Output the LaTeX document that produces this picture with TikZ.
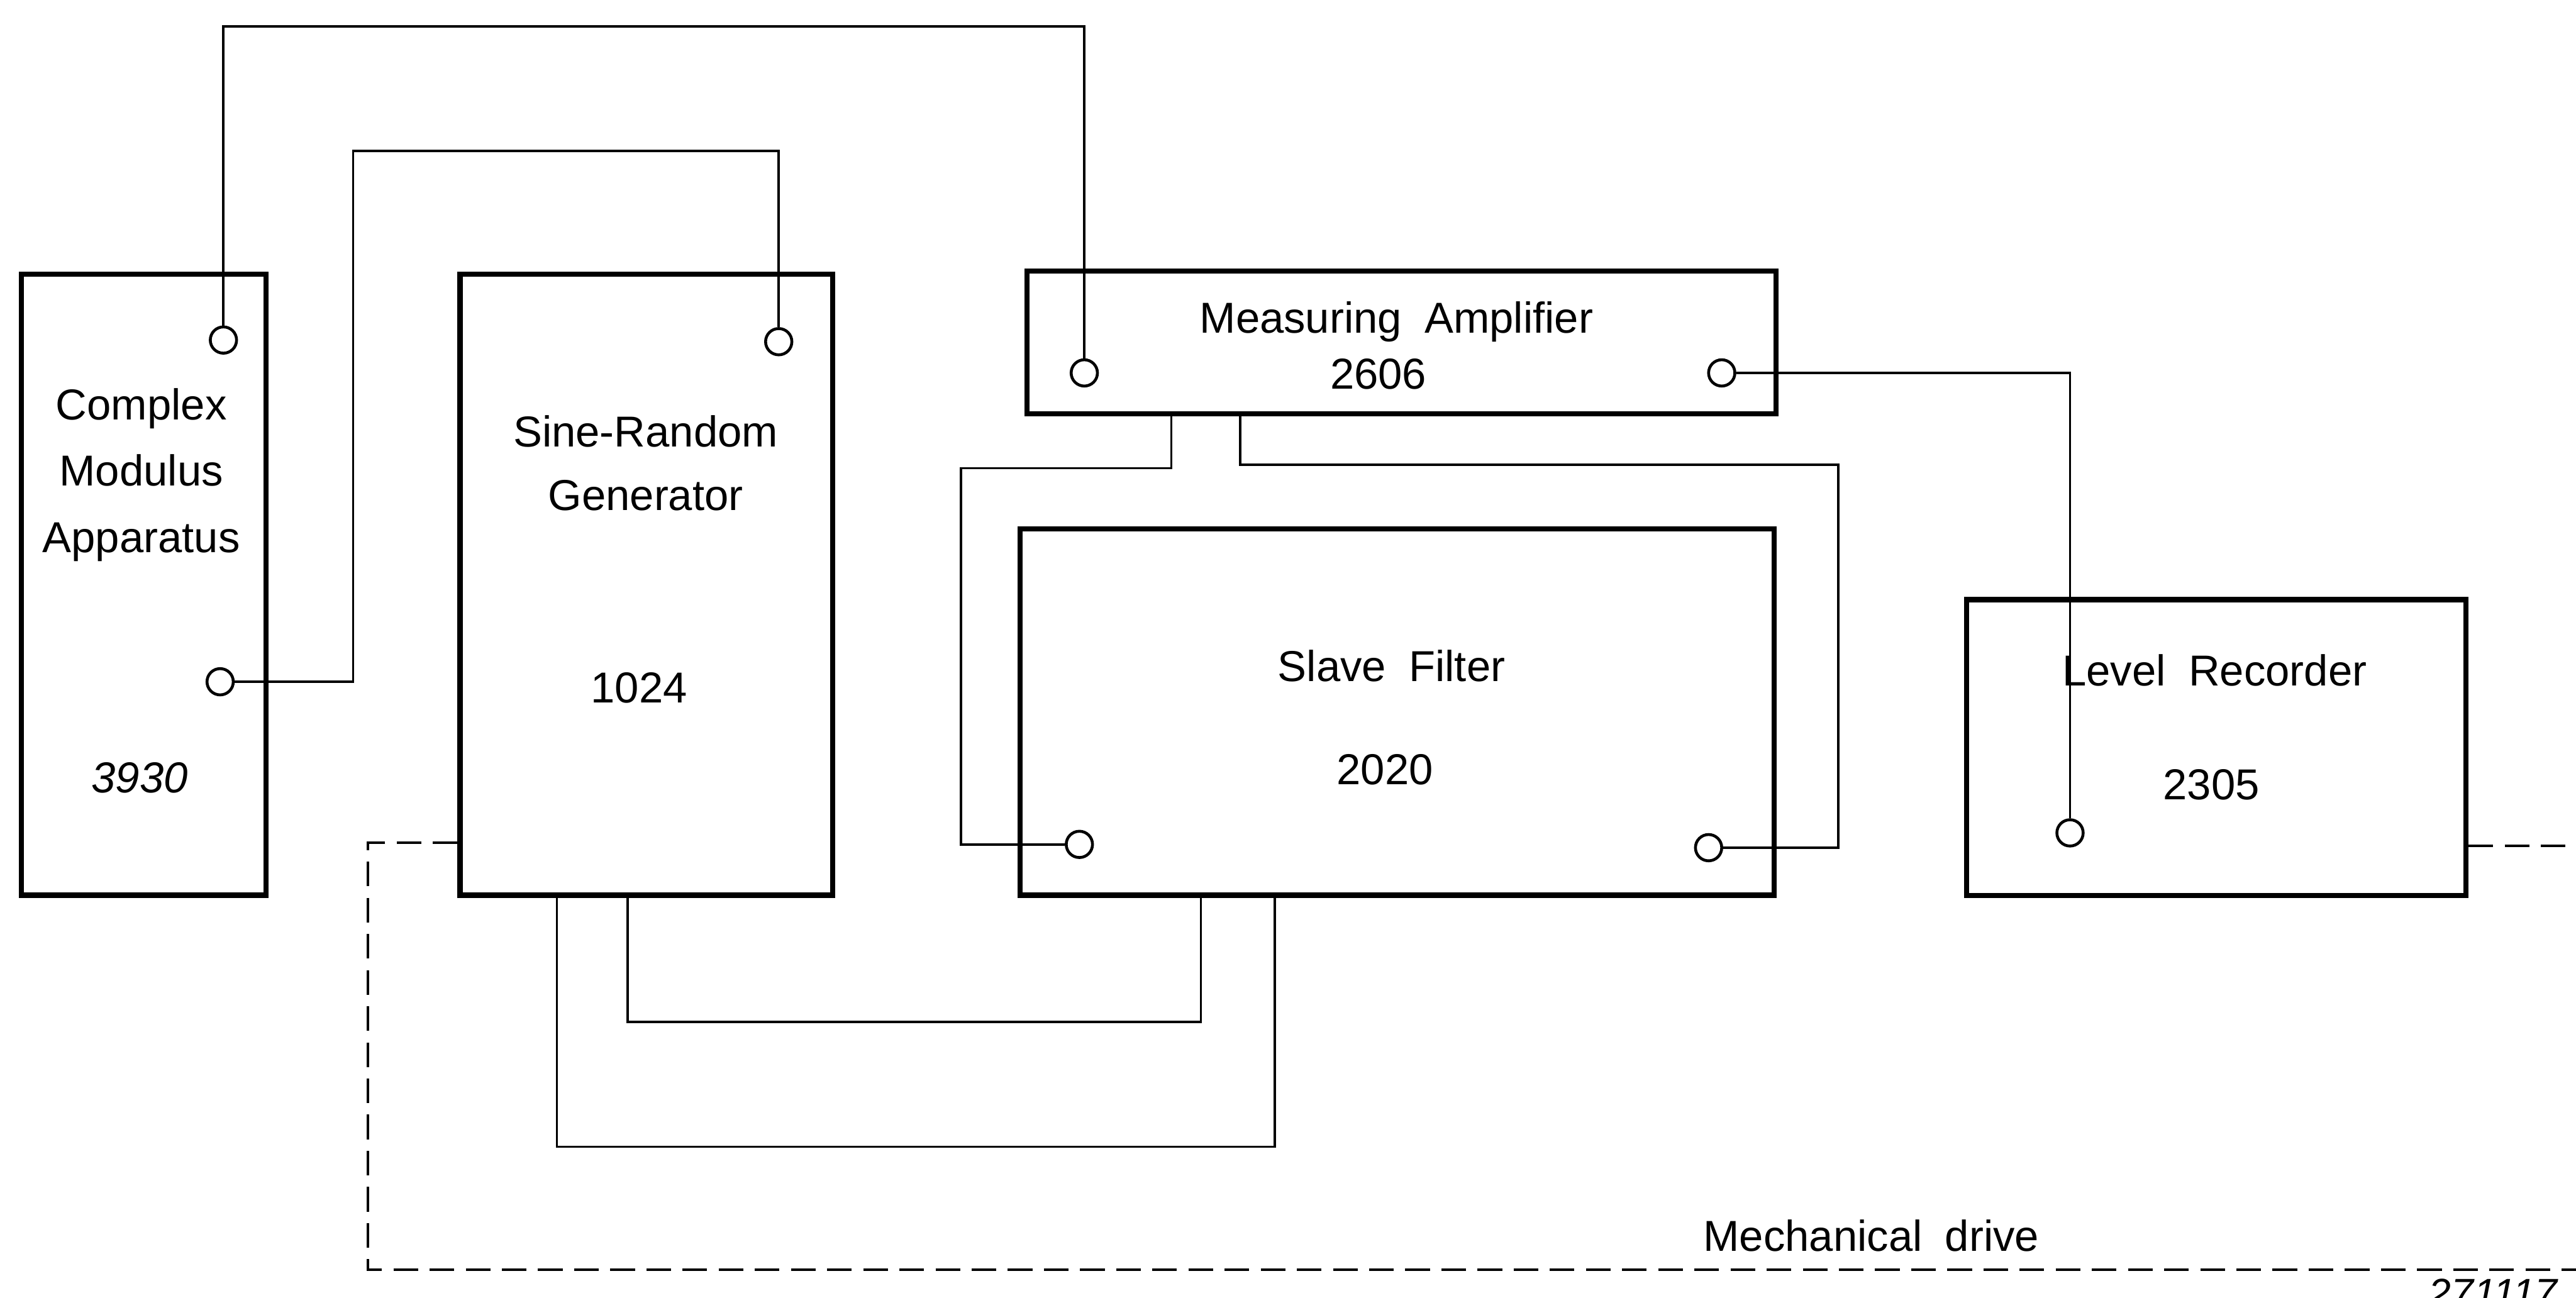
\documentclass[tikz,border=0pt]{standalone}
\usepackage{fontspec}
\setmainfont{Liberation Sans}

\begin{document}
\begin{tikzpicture}[x=0.02cm,y=-0.02cm,
    unit/.style={draw,line width=1.8pt,inner sep=0pt},
    term/.style={draw,circle,line width=1pt,minimum size=0.32cm,inner sep=0pt,fill=white},
    lbl/.style={font=\fontsize{15}{18}\selectfont,anchor=mid,inner sep=0pt,yshift=-0.1cm},
    title/.style={align=center,inner sep=0pt},
    wire/.style={line width=0.8pt},
    drive/.style={line width=0.8pt,dash pattern=on 0.3cm off 0.14cm}]
    \useasboundingbox (0,0) rectangle (1568,790);
    % instruments
    \node[unit,minimum width=2.98cm,minimum height=7.56cm] (cma) at (87.5,356) {};
    \node[unit,minimum width=4.54cm,minimum height=7.56cm] (srg) at (393.5,356) {};
    \node[unit,minimum width=9.12cm,minimum height=1.74cm] (amp) at (853,208.5) {};
    \node[unit,minimum width=9.18cm,minimum height=4.46cm] (filt) at (850.5,433.5) {};
    \node[unit,minimum width=6.08cm,minimum height=3.6cm] (rec) at (1349,455) {};
    % names and type numbers
    \node[title,font=\fontsize{15}{23}\selectfont] (cmaName) at (86,289) {Complex\\Modulus\\Apparatus};
    \node[lbl,font=\itshape\fontsize{15}{18}\selectfont] (cmaNo) at (85,473) {3930};
    \node[title,font=\fontsize{15}{22}\selectfont] (srgName) at (393,282) {Sine-Random\\Generator};
    \node[lbl] (srgNo) at (389,418) {1024};
    \node[lbl] (ampName) at (850,193) {Measuring\hspace{0.25em} Amplifier};
    \node[lbl] (ampNo) at (839,227) {2606};
    \node[lbl] (filtName) at (847,405) {Slave\hspace{0.25em} Filter};
    \node[lbl] (filtNo) at (843,468) {2020};
    \node[lbl] (recName) at (1348,408) {Level\hspace{0.25em} Recorder};
    \node[lbl] (recNo) at (1346,477) {2305};
    % terminals
    \node[term] (cmaA) at (136,207) {};
    \node[term] (cmaB) at (134,415) {};
    \node[term] (srgA) at (474,208) {};
    \node[term] (ampIn) at (660,227) {};
    \node[term] (ampOut) at (1048,227) {};
    \node[term] (filtIn) at (657,514) {};
    \node[term] (filtOut) at (1040,516) {};
    \node[term] (recIn) at (1260,507) {};
    % corners
    \coordinate (t1) at (400,16);
    \coordinate (t2) at (215,92);
    \coordinate (j1) at (713,285);
    \coordinate (j2) at (585,514);
    \coordinate (j3) at (755,283);
    \coordinate (j4) at (1119,516);
    \coordinate (j5) at (382,622);
    \coordinate (j6) at (731,622);
    \coordinate (j7) at (339,698);
    \coordinate (j8) at (776,698);
    \coordinate (m1) at (224,513);
    \coordinate (m2) at (224,773);
    \coordinate (m3) at (1568,773);
    \coordinate (m4) at (1568,515);
    % cables
    \draw[wire] (cmaA) |- (t1) -| (ampIn);
    \draw[wire] (cmaB) -| (t2) -| (srgA);
    \draw[wire] (ampOut) -| (recIn);
    \draw[wire] (j1 |- amp.south) -- (j1) -| (j2) -- (filtIn);
    \draw[wire] (j3 |- amp.south) -- (j3) -| (j4) -- (filtOut);
    \draw[wire] (j5 |- srg.south) -- (j5) -- (j6) -- (j6 |- filt.south);
    \draw[wire] (j7 |- srg.south) -- (j7) -- (j8) -- (j8 |- filt.south);
    % mechanical drive
    \draw[drive] (m1 -| srg.west) -- (m1) -- (m2) -- (m3);
    \draw[drive] (m4 -| rec.east) -- (m4);
    \node[lbl] (mech) at (1139,752) {Mechanical\hspace{0.25em} drive};
    \node[anchor=north west,inner sep=0pt,font=\itshape\fontsize{14}{16}\selectfont] (figNo) at (1478,778) {271117};
\end{tikzpicture}
\end{document}
